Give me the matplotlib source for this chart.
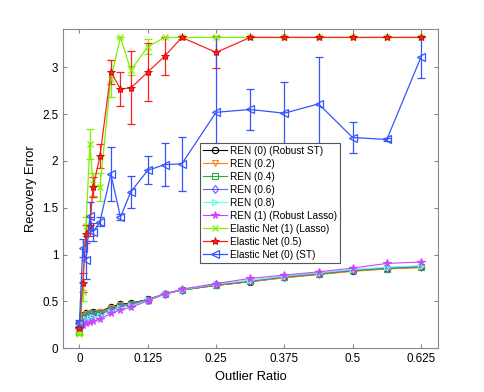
import matplotlib
matplotlib.use('Agg')
import matplotlib.pyplot as plt

plt.rcParams['font.family'] = ['Liberation Sans', 'DejaVu Sans']

ratio = [0, 0.006, 0.012, 0.019, 0.025, 0.0375, 0.0575, 0.075, 0.094, 0.125,
         0.156, 0.1875, 0.25, 0.3125, 0.375, 0.4375, 0.5, 0.5625, 0.625]

ren_0 = [0.27, 0.35, 0.37, 0.38, 0.39, 0.39, 0.44, 0.47, 0.48, 0.52,
         0.58, 0.62, 0.67, 0.71, 0.755, 0.79, 0.825, 0.85, 0.865]
ren_02 = [0.22, 0.34, 0.36, 0.37, 0.38, 0.385, 0.43, 0.46, 0.475, 0.515,
          0.575, 0.62, 0.67, 0.71, 0.75, 0.785, 0.82, 0.845, 0.86]
ren_04 = [0.17, 0.33, 0.35, 0.36, 0.37, 0.375, 0.42, 0.455, 0.47, 0.515,
          0.58, 0.62, 0.675, 0.715, 0.76, 0.79, 0.83, 0.85, 0.87]
ren_06 = [0.25, 0.31, 0.33, 0.34, 0.35, 0.36, 0.41, 0.445, 0.46, 0.51,
          0.58, 0.625, 0.68, 0.72, 0.765, 0.80, 0.835, 0.86, 0.875]
ren_08 = [0.23, 0.29, 0.31, 0.32, 0.33, 0.34, 0.39, 0.43, 0.45, 0.51,
          0.58, 0.625, 0.685, 0.725, 0.77, 0.805, 0.84, 0.865, 0.88]
ren_1 = [0.22, 0.25, 0.27, 0.28, 0.29, 0.31, 0.37, 0.41, 0.435, 0.505,
         0.58, 0.63, 0.69, 0.745, 0.78, 0.815, 0.855, 0.905, 0.92]

en_1 = [0.15, 0.6, 1.3, 2.18, 1.75, 1.72, 2.88, 3.32, 2.97, 3.22,
        3.32, 3.32, 3.32, 3.32, 3.32, 3.32, 3.32, 3.32, 3.32]
en_1_err = [0, 0.1, 0.1, 0.16, 0.12, 0.15, 0.2, 0, 0.05, 0.08,
            0, 0, 0, 0, 0, 0, 0, 0, 0]
en_05 = [0.21, 0.70, 1.22, 1.30, 1.72, 2.05, 2.95, 2.77, 2.78, 2.95,
         3.12, 3.32, 3.16, 3.32, 3.32, 3.32, 3.32, 3.32, 3.32]
en_05_err = [0, 0.1, 0.1, 0.1, 0.11, 0.13, 0.13, 0.18, 0.39, 0.31,
             0.2, 0.02, 0.17, 0, 0, 0, 0, 0, 0]
en_0 = [0.27, 1.07, 0.94, 1.41, 1.24, 1.35, 1.86, 1.40, 1.67, 1.90,
        1.96, 1.97, 2.52, 2.55, 2.51, 2.61, 2.25, 2.23, 3.11]
en_0_err = [0.03, 0.1, 0.2, 0.15, 0.1, 0.05, 0.29, 0.03, 0.17, 0.15,
            0.23, 0.29, 0.8, 0.22, 0.33, 0.5, 0.17, 0.02, 0.22]

fig = plt.figure(figsize=(4.85, 3.92), dpi=100)
ax = fig.add_axes([0.130, 0.112, 0.773, 0.814])

ax.plot(ratio, ren_0, '-o', color='k', lw=0.8, ms=4.5, mfc='none', mew=0.8, label='REN (0) (Robust ST)')
ax.plot(ratio, ren_02, '-v', color='#FF8020', lw=0.8, ms=4.5, mfc='none', mew=0.8, label='REN (0.2)')
ax.plot(ratio, ren_04, '-s', color='#33AA33', lw=0.8, ms=4, mfc='none', mew=0.8, label='REN (0.4)')
ax.plot(ratio, ren_06, '-d', color='#6A5CFF', lw=0.8, ms=4.5, mfc='none', mew=0.8, label='REN (0.6)')
ax.plot(ratio, ren_08, '->', color='#66FFE0', lw=0.8, ms=4.5, mfc='none', mew=0.8, label='REN (0.8)')
ax.plot(ratio, ren_1, '-*', color='#CC44FF', lw=0.8, ms=5.5, mew=0.8, label='REN (1) (Robust Lasso)')

# error bars drawn apart so the legend keeps plain line handles
for y, e, c in [(en_1, en_1_err, '#7FF000'), (en_05, en_05_err, '#FF2020'), (en_0, en_0_err, '#3355FF')]:
    ax.errorbar(ratio, y, yerr=e, fmt='none', ecolor=c, capsize=3, elinewidth=0.9, capthick=0.9)

ax.plot(ratio, en_1, '-x', color='#7FF000', lw=0.9, ms=4.5, mew=0.9, label='Elastic Net (1) (Lasso)')
ax.plot(ratio, en_05, '-*', color='#FF2020', lw=0.9, ms=6, mew=0.6, mec='#CC0000', label='Elastic Net (0.5)')
ax.plot(ratio, en_0, '-<', color='#3355FF', lw=0.9, ms=5.5, mfc='none', mew=0.9, label='Elastic Net (0) (ST)')

ax.set_xlim(-0.03, 0.656)
ax.set_ylim(0, 3.41)
ax.set_xticks([0, 0.125, 0.25, 0.375, 0.5, 0.625])
ax.set_xticklabels(['0', '0.125', '0.25', '0.375', '0.5', '0.625'])
ax.set_yticks([0, 0.5, 1, 1.5, 2, 2.5, 3])
ax.set_yticklabels(['0', '0.5', '1', '1.5', '2', '2.5', '3'])
ax.tick_params(direction='in', top=True, right=True, labelsize=8.4, length=3, color='#888888')
for s in ax.spines.values():
    s.set_color('#888888')

ax.set_xlabel('Outlier Ratio', fontsize=9.3)
ax.set_ylabel('Recovery Error', fontsize=9.3)

leg = ax.legend(loc='lower left', bbox_to_anchor=(0.365, 0.268), borderaxespad=0,
                fontsize=7.2, fancybox=False, framealpha=1, edgecolor='#555555',
                handlelength=2.4, labelspacing=0.3, borderpad=0.3, handletextpad=0.3)
leg.get_frame().set_linewidth(0.8)

fig.savefig('out.png', dpi=100)
